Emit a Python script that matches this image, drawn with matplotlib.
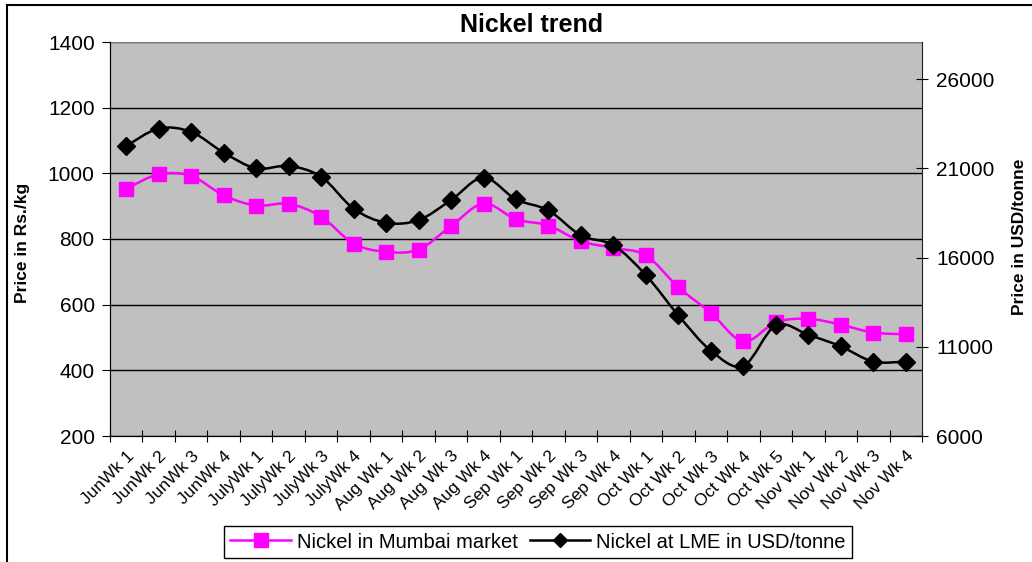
import matplotlib
matplotlib.use('Agg')
import matplotlib.pyplot as plt
import matplotlib.transforms as mtrans
from matplotlib.path import Path
from matplotlib.patches import PathPatch
from matplotlib.lines import Line2D

plt.rcParams['font.family'] = ['Liberation Sans', 'DejaVu Sans']

weeks = ['JunWk 1', 'JunWk 2', 'JunWk 3', 'JunWk 4',
         'JulyWk 1', 'JulyWk 2', 'JulyWk 3', 'JulyWk 4',
         'Aug Wk 1', 'Aug Wk 2', 'Aug Wk 3', 'Aug Wk 4',
         'Sep Wk 1', 'Sep Wk 2', 'Sep Wk 3', 'Sep Wk 4',
         'Oct Wk 1', 'Oct Wk 2', 'Oct Wk 3', 'Oct Wk 4', 'Oct Wk 5',
         'Nov Wk 1', 'Nov Wk 2', 'Nov Wk 3', 'Nov Wk 4']

# Rs./kg (left axis)
mumbai = [953, 997, 992, 933, 902, 907, 868, 786, 761, 768, 839, 908,
          860, 841, 793, 773, 750, 653, 575, 488, 546, 557, 539, 515, 510]

# USD/tonne (right axis)
lme = [22250, 23230, 23040, 21880, 21000, 21130, 20530, 18740, 17950, 18100,
       19220, 20480, 19260, 18640, 17240, 16690, 15010, 12760, 10780, 9930,
       12200, 11670, 11020, 10170, 10170]

left_ticks = [200, 400, 600, 800, 1000, 1200, 1400]
right_ticks = [6000, 11000, 16000, 21000, 26000]

PINK = '#FF00FF'


def smooth_path(xs, ys):
    # excel style smoothed line: bezier through each point
    n = len(xs)
    verts = [(xs[0], ys[0])]
    codes = [Path.MOVETO]
    for i in range(n - 1):
        p0 = i - 1 if i > 0 else i
        p3 = i + 2 if i + 2 < n else i + 1
        c1 = (xs[i] + (xs[i + 1] - xs[p0]) / 6, ys[i] + (ys[i + 1] - ys[p0]) / 6)
        c2 = (xs[i + 1] - (xs[p3] - xs[i]) / 6, ys[i + 1] - (ys[p3] - ys[i]) / 6)
        verts += [c1, c2, (xs[i + 1], ys[i + 1])]
        codes += [Path.CURVE4] * 3
    return Path(verts, codes)


fig = plt.figure(figsize=(10.32, 5.62), dpi=100)
ax = fig.add_axes([110 / 1032, 1 - 436 / 562, 812 / 1032, 394 / 562])
ax.set_facecolor('#C0C0C0')

x = list(range(len(weeks)))

ax.add_patch(PathPatch(smooth_path(x, mumbai), fill=False, edgecolor=PINK, lw=1.8, zorder=3))
ax.plot(x, mumbai, ls='none', marker='s', ms=10, color=PINK, zorder=4)

ax.set_xlim(-0.5, len(weeks) - 0.5)
ax.set_ylim(200, 1400)
ax.set_yticks(left_ticks)
ax.yaxis.grid(True, color='black', lw=1)
ax.set_axisbelow(True)
ax.set_xticks([i - 0.5 for i in range(len(weeks) + 1)])
ax.set_xticklabels([])
ax.set_xticks(x, minor=True)
ax.set_xticklabels(weeks, minor=True, rotation=45, ha='right', va='top',
                   rotation_mode='anchor', fontsize=12.5)
shift = mtrans.ScaledTranslation(-12 / 100, 0, fig.dpi_scale_trans)
for lbl in ax.get_xticklabels(minor=True):
    lbl.set_transform(lbl.get_transform() + shift)
ax.tick_params(axis='x', which='minor', length=0, pad=9)
ax.tick_params(axis='x', which='major', direction='inout', length=8, color='black')
ax.tick_params(axis='y', direction='out', length=6, labelsize=15, pad=5)
ax.spines['top'].set_color('#808080')
ax.spines['right'].set_visible(False)
ax.set_ylabel('Price in Rs./kg', fontsize=12.5, fontweight='bold')
ax.yaxis.set_label_coords(-0.098, 0.49)

ax2 = ax.twinx()
ax2.add_patch(PathPatch(smooth_path(x, lme), fill=False, edgecolor='black', lw=1.8, zorder=3))
ax2.plot(x, lme, ls='none', marker='D', ms=9, color='black', zorder=4)
ax2.set_ylim(6000, 28080)
ax2.set_yticks(right_ticks)
ax2.tick_params(axis='y', direction='inout', length=8, labelsize=15, pad=6)
ax2.spines['top'].set_visible(False)
ax2.spines['right'].set_color('#202020')
ax2.set_ylabel('Price in USD/tonne', fontsize=12.5, fontweight='bold', rotation=90)
ax2.yaxis.set_label_coords(1.111, 0.505)

fig.text(532 / 1032, 1 - 25 / 562, 'Nickel trend', ha='center', va='center',
         fontsize=18, fontweight='bold')

handles = [Line2D([], [], color=PINK, lw=1.8, marker='s', ms=10),
           Line2D([], [], color='black', lw=1.8, marker='D', ms=7)]
fig.legend(handles, ['Nickel in Mumbai market', 'Nickel at LME in USD/tonne'],
           loc='center', bbox_to_anchor=(538 / 1032, 1 - 542 / 562), ncol=2,
           fontsize=14.5, frameon=True, fancybox=False, edgecolor='black',
           framealpha=1, borderpad=0.3, handlelength=3, columnspacing=0.6,
           handletextpad=0.3)

# chart area border (only top and left show in the crop)
fig.add_artist(Line2D([7 / 1032, 7 / 1032], [0, 1 - 5 / 562], color='black', lw=1.5,
                      transform=fig.transFigure))
fig.add_artist(Line2D([7 / 1032, 1], [1 - 5 / 562, 1 - 5 / 562], color='black', lw=1.5,
                      transform=fig.transFigure))

fig.savefig('out.png', dpi=100)
